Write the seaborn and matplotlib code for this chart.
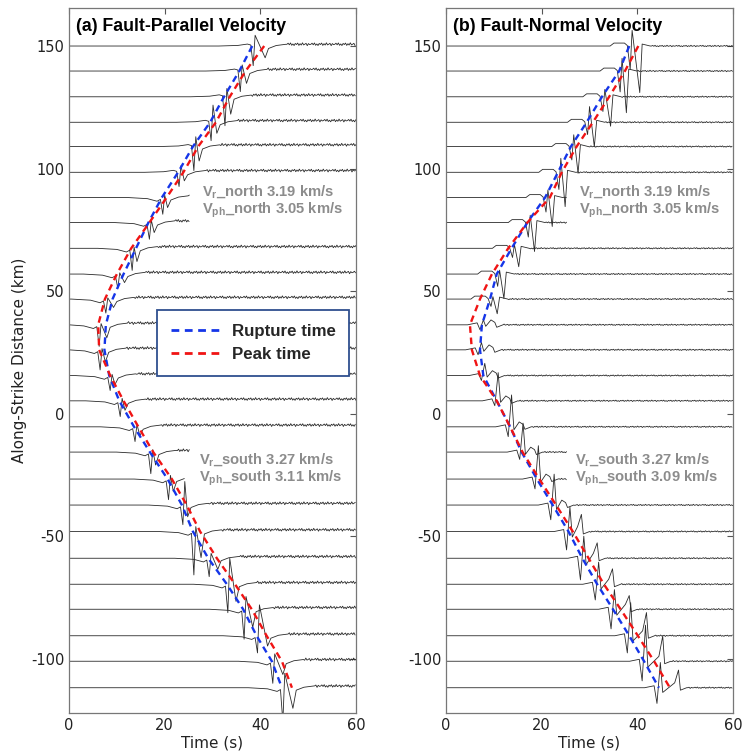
import numpy as np
import pandas as pd
import matplotlib
matplotlib.use("Agg")
import matplotlib.pyplot as plt
import seaborn as sns
from matplotlib.lines import Line2D

# ---------------- data ----------------
YPOS = [150.0, 139.8, 129.3, 118.9, 109.0, 98.5, 88.2, 78.0, 67.5, 57.0, 46.8, 36.3, 26.1,
        15.6, 5.3, -5.3, -15.6, -26.6, -37.2, -48.0, -58.9, -69.5, -79.7, -90.5, -100.9, -111.7]

# Panel (a) fault-parallel
RUP_A = [38.3, 35.6, 32.4, 29.5, 25.9, 22.8, 19.4, 16.6, 14.0, 11.4, 9.1, 7.7, 7.4,
         8.4, 10.5, 13.6, 16.9, 20.6, 23.6, 25.9, 29.1, 33.0, 36.4, 39.2, 42.4, 44.5]
PEAK_A = [40.8, 36.9, 33.6, 30.7, 27.0, 23.9, 20.4, 16.8, 13.0, 10.0, 7.5, 6.1, 6.3,
          8.6, 11.4, 14.5, 17.6, 21.5, 24.6, 27.4, 30.9, 34.7, 38.2, 41.3, 44.5, 46.6]
DIP_A = [-8.0, -8.4, -11.8, -7.5, -9.8, -5.8, -6.8, -6.8, -9.0, -5.8, -5.7, -8.8, -8.2,
         -6.1, -6.4, -6.0, -8.8, -8.4, -8.0, -17.7, -7.5, -11.6, -12.2, -7.0, -9.0, -14.0]
SPK_A = [4.4, 2.5, 3.4, 7.0, 4.0, 2.7, 1.0, 1.0, 0.5, 0.5, 0.5, 0.5, 0.5,
         0.5, 1.0, 1.0, 1.0, 1.5, 9.6, 2.0, 2.0, 10.6, 5.2, 12.6, 3.0, 5.9]

# Panel (b) fault-normal
RUP_B = [38.3, 36.2, 32.6, 29.4, 26.1, 23.4, 20.7, 17.0, 13.7, 10.6, 9.2, 7.5, 7.1,
         7.8, 10.6, 13.4, 15.8, 19.0, 22.3, 25.6, 28.5, 31.6, 34.9, 38.3, 41.4, 44.5]
PEAK_B = [40.2, 37.4, 34.1, 30.7, 27.3, 24.2, 21.7, 17.0, 13.0, 9.6, 7.1, 5.0, 5.4,
          7.1, 10.6, 13.4, 16.0, 19.5, 23.0, 26.5, 29.8, 33.0, 36.5, 40.1, 43.5, 46.8]
DIP_B = [-19.0, -17.0, -12.0, -10.0, -10.9, -14.0, -11.8, -11.8, -7.5, -10.0, -6.0, -2.0, -2.0,
         -2.0, -2.0, -4.0, -3.0, -4.0, -6.0, -7.5, -8.8, -6.4, -8.0, -7.0, -8.0, -6.4]
SPK_B = [6.4, 5.2, 3.0, 6.4, 4.8, 5.7, 3.1, 3.0, 1.5, 1.6, 1.0, 2.0, 3.0,
         5.0, 11.5, 13.0, 11.8, 13.6, 12.6, 10.0, 9.0, 9.0, 8.0, 13.5, 14.7, 10.3]

# end time of each trace (some are cut short under the annotations)
END_T = [60, 60, 60, 60, 60, 60, 25.3, 25.3, 60, 60, 60, 60, 60,
         60, 60, 60, 25.3, 25.3, 60, 60, 60, 60, 60, 60, 60, 60]

# small hand-read wiggle pattern of the noisy coda
NOISE = [0.0, 0.45, -0.2, 0.55, -0.4, 0.15, -0.5, 0.35, -0.1, 0.5,
         -0.45, 0.25, -0.3, 0.6, -0.25, 0.05, 0.4, -0.55, 0.3, -0.15]

TITLES = ["(a) Fault-Parallel Velocity", "(b) Fault-Normal Velocity"]
NORTH_TXT = [[r"V$_\mathbf{r}$_north 3.19 km/s", r"V$_\mathbf{ph}$_north 3.05 km/s"],
             [r"V$_\mathbf{r}$_north 3.19 km/s", r"V$_\mathbf{ph}$_north 3.05 km/s"]]
SOUTH_TXT = [[r"V$_\mathbf{r}$_south 3.27 km/s", r"V$_\mathbf{ph}$_south 3.11 km/s"],
             [r"V$_\mathbf{r}$_south 3.27 km/s", r"V$_\mathbf{ph}$_south 3.09 km/s"]]
LEGEND_LABELS = ["Rupture time", "Peak time"]

# ---------------- trace construction ----------------
def shape_a(y0, tr, tp, d, s):
    t1, t2 = sorted((tr, tp))
    t2 = max(t2, t1 + 1.0)
    pre = 0.8 if y0 > 90 else -1.5
    return [(t1 - 7, 0.0), (t1 - 3, 0.3 * pre), (t1 - 1.0, pre), (t1 - 0.3, 0.5 * pre),
            (t1 + 0.2, d), (t1 + 0.6, s), (t2 + 0.2, 0.6 * d), (t2 + 0.9, -1.0),
            (t2 + 2.5, 0.2), (t2 + 4.5, 0.7)], 0.7, 1.0


def shape_b(y0, tr, tp, d, s):
    if y0 > 45:
        t2 = max(tp, tr + 1.2)
        return [(tr - 4, 0.0), (tr - 3.2, 1.2), (tr - 1.0, 1.2), (tr - 0.4, 0.2),
                (tr + 0.2, 0.5 * d), (tr + 0.6, s), (t2 + 0.3, d), (t2 + 0.8, 0.8),
                (t2 + 2.5, 0.0)], 0.0, 0.5
    s2 = 0.7 * s if y0 < -40 else 1.0
    t2 = max(tp, tr + 0.9)
    return [(tr - 3, 0.0), (tr - 1.0, 0.8), (tr - 0.4, d), (tr + 0.3, s),
            (tr + 0.8, 0.3 * d), (t2 + 1.0, 2.0), (t2 + 1.8, s2), (t2 + 2.2, -1.0),
            (t2 + 3.5, 0.0)], 0.0, 0.5


def build(shape, rup, peak, dip, spk):
    rows = []
    for i, (y0, tr, tp, d, s, te) in enumerate(zip(YPOS, rup, peak, dip, spk, END_T)):
        pts, post, namp = shape(y0, tr, tp, d, s)
        pts = [(0.0, 0.0)] + [p for p in pts if p[0] > 0.05]
        tl = pts[-1][0]
        k = 3 * i
        t = tl + 0.25
        while t <= te:
            pts.append((t, post + namp * NOISE[k % len(NOISE)]))
            k += 1
            t += 0.25
        pts = [p for p in pts if p[0] <= te]
        for t, v in pts:
            rows.append({"t": t, "v": y0 + v, "sid": i})
    return pd.DataFrame(rows)


# ---------------- figure ----------------
sns.set_style("white")
plt.rcParams["font.family"] = ["DejaVu Sans"]
plt.rcParams["axes.unicode_minus"] = False
plt.rcParams["mathtext.fontset"] = "custom"
plt.rcParams["mathtext.rm"] = "Liberation Sans:bold"
plt.rcParams["mathtext.bf"] = "Liberation Sans:bold"

fig = plt.figure(figsize=(7.43, 7.56), dpi=100)
axes = [fig.add_axes([0.0929, 0.0569, 0.3863, 0.9325]),
        fig.add_axes([0.6003, 0.0569, 0.3863, 0.9325])]

panels = [(shape_a, RUP_A, PEAK_A, DIP_A, SPK_A), (shape_b, RUP_B, PEAK_B, DIP_B, SPK_B)]
BLUE, RED = "#1535e8", "#f01414"
DASH = (0, (2.8, 2.0))

for j, (ax, (shp, rup, peak, dip, spk)) in enumerate(zip(axes, panels)):
    df = build(shp, rup, peak, dip, spk)
    sns.lineplot(data=df, x="t", y="v", units="sid", estimator=None, sort=False,
                 color="#2a2a2a", lw=0.6, ax=ax, legend=False)
    sns.lineplot(x=rup, y=YPOS, sort=False, estimator=None, color=BLUE, lw=1.7,
                 linestyle=DASH, ax=ax)
    sns.lineplot(x=peak, y=YPOS, sort=False, estimator=None, color=RED, lw=1.7,
                 linestyle=DASH, ax=ax)

    ax.set_xlim(0, 60)
    ax.set_ylim(-122, 165.5)
    ax.set_xticks([0, 20, 40, 60])
    ax.set_yticks([-100, -50, 0, 50, 100, 150])
    ax.tick_params(direction="in", top=True, right=True, length=4, width=0.8,
                   labelsize=10.5, colors="#555555", labelcolor="#222222")
    for sp in ax.spines.values():
        sp.set_color("#777777")
        sp.set_linewidth(0.9)
    ax.set_xlabel("Time (s)", fontsize=11, color="#222222", labelpad=2)
    ax.set_ylabel("Along-Strike Distance (km)" if j == 0 else "", fontsize=11, color="#222222")

    ax.text(1.5, 157.8, TITLES[j], fontsize=12.8, fontweight="bold",
            family="Liberation Sans", va="center", ha="left", color="black")
    xt = 27.8 if j == 0 else 27.9
    ax.text(xt, 90.2, NORTH_TXT[j][0], fontsize=10.6, fontweight="bold", family="Liberation Sans",
            color="#8c8c8c", va="center")
    ax.text(xt, 83.2, NORTH_TXT[j][1], fontsize=10.6, fontweight="bold", family="Liberation Sans",
            color="#8c8c8c", va="center")
    xs = 27.2 if j == 0 else 27.0
    ax.text(xs, -19.0, SOUTH_TXT[j][0], fontsize=10.6, fontweight="bold", family="Liberation Sans",
            color="#8c8c8c", va="center")
    ax.text(xs, -26.4, SOUTH_TXT[j][1], fontsize=10.6, fontweight="bold", family="Liberation Sans",
            color="#8c8c8c", va="center")

axes[0].yaxis.set_label_coords(-0.145, 0.5)

handles = [Line2D([], [], color=BLUE, lw=2.0, linestyle=DASH),
           Line2D([], [], color=RED, lw=2.0, linestyle=DASH)]
leg = axes[0].legend(handles, LEGEND_LABELS, loc="upper left", bbox_to_anchor=(0.3077, 0.5716),
                     borderaxespad=0.0, frameon=True, fancybox=False, framealpha=1.0,
                     edgecolor="#2f4f8f", handlelength=3.0, handletextpad=0.6,
                     borderpad=0.8, labelspacing=0.5,
                     prop={"family": "Liberation Sans", "weight": "bold", "size": 12.2})
leg.get_frame().set_linewidth(1.3)
leg.set_zorder(5)

fig.savefig("out.png", dpi=100)
